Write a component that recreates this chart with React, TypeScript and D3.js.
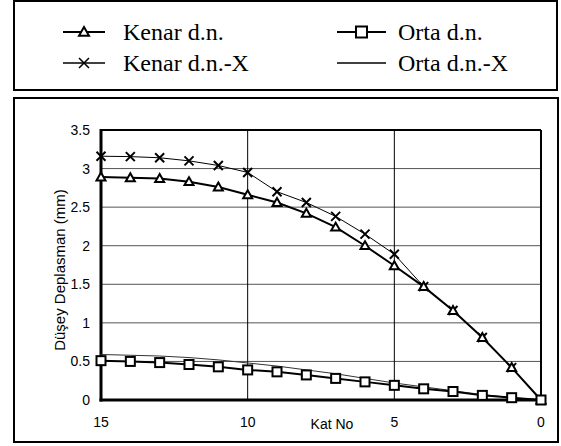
import React from "react";
import * as d3 from "d3";

const katNo = [15, 14, 13, 12, 11, 10, 9, 8, 7, 6, 5, 4, 3, 2, 1, 0];
const kenar = [2.89, 2.88, 2.87, 2.83, 2.76, 2.66, 2.56, 2.42, 2.24, 2.0, 1.74, 1.47, 1.16, 0.81, 0.42, 0];
const kenarX = [3.16, 3.155, 3.14, 3.1, 3.04, 2.95, 2.7, 2.56, 2.38, 2.15, 1.89, 1.47, 1.16, 0.81, 0.42, 0];
const orta = [0.51, 0.5, 0.485, 0.46, 0.43, 0.39, 0.365, 0.325, 0.28, 0.235, 0.19, 0.145, 0.11, 0.06, 0.03, 0];
const ortaX = [0.59, 0.58, 0.57, 0.55, 0.52, 0.48, 0.44, 0.39, 0.34, 0.28, 0.22, 0.17, 0.12, 0.07, 0.03, 0];
const yTicks = [0, 0.5, 1, 1.5, 2, 2.5, 3, 3.5];
const xTicks = [15, 10, 5, 0];
const xGrid = [10, 5];

const left = 101, right = 541, top = 130, bottom = 400;

export default function App() {
  const x = d3.scaleLinear().domain([15, 0]).range([left, right]);
  const y = d3.scaleLinear().domain([0, 3.5]).range([bottom, top]);
  const line = (vals: number[]) =>
    d3.line<number>().x((_, i) => x(katNo[i])).y((v) => y(v))(vals) || "";

  const tri = (cx: number, cy: number, s = 5) =>
    `M${cx},${cy - s} L${cx + s},${cy + s * 0.75} L${cx - s},${cy + s * 0.75} Z`;
  const cross = (cx: number, cy: number, s = 5) =>
    `M${cx - s},${cy - s} L${cx + s},${cy + s} M${cx - s},${cy + s} L${cx + s},${cy - s}`;

  const sans = "Liberation Sans, Arial, sans-serif";
  const serif = "Liberation Serif, Times New Roman, serif";

  return (
    <svg width={561} height={446} style={{ position: "absolute", left: 0, top: 0 }}>
      <rect x={0} y={0} width={561} height={446} fill="#fff" />
      {/* legend box */}
      <rect x={14} y={1} width={543} height={89} fill="none" stroke="#000" strokeWidth={2} />
      <g fontFamily={serif} fontSize={24} fill="#000">
        <line x1={63} x2={105} y1={32} y2={32} stroke="#000" strokeWidth={2} />
        <path d={tri(84, 32, 5)} fill="#fff" stroke="#000" strokeWidth={2} />
        <text x={123} y={40}>Kenar d.n.</text>
        <line x1={63} x2={105} y1={63} y2={63} stroke="#000" strokeWidth={1.5} />
        <path d={cross(84, 63, 5)} stroke="#000" strokeWidth={1.5} />
        <text x={123} y={71}>Kenar d.n.-X</text>
        <line x1={337} x2={386} y1={32} y2={32} stroke="#000" strokeWidth={2} />
        <rect x={356} y={26.5} width={11} height={11} fill="#fff" stroke="#000" strokeWidth={2} />
        <text x={398} y={40}>Orta d.n.</text>
        <line x1={337} x2={386} y1={63} y2={63} stroke="#000" strokeWidth={1.5} />
        <text x={398} y={71}>Orta d.n.-X</text>
      </g>
      {/* chart box */}
      <rect x={14} y={98} width={544} height={344} fill="none" stroke="#000" strokeWidth={2} />
      {/* grid */}
      {yTicks.map((t) => (
        <line key={"gy" + t} x1={left} x2={right} y1={y(t)} y2={y(t)} stroke="#555" strokeWidth={1} />
      ))}
      {xGrid.map((t) => (
        <line key={"gx" + t} x1={x(t)} x2={x(t)} y1={top} y2={bottom} stroke="#000" strokeWidth={1} />
      ))}
      {/* frame */}
      <line x1={left} x2={right} y1={top} y2={top} stroke="#000" strokeWidth={2} />
      <line x1={right} x2={right} y1={top} y2={bottom} stroke="#000" strokeWidth={2} />
      <line x1={left} x2={left} y1={top - 1} y2={bottom + 1.5} stroke="#000" strokeWidth={3} />
      <line x1={left - 1.5} x2={right + 1} y1={bottom} y2={bottom} stroke="#000" strokeWidth={3} />
      {/* tick labels */}
      <g fontFamily={sans} fontSize={14} fill="#000">
        {yTicks.map((t) => (
          <text key={"ty" + t} x={90} y={y(t) + 5} textAnchor="end">
            {d3.format("")(t)}
          </text>
        ))}
        {xTicks.map((t) => (
          <text key={"tx" + t} x={x(t)} y={427} textAnchor="middle">
            {t}
          </text>
        ))}
        <text x={332} y={429} textAnchor="middle">Kat No</text>
        <text fontSize={15} transform={`translate(65,270) rotate(-90)`} textAnchor="middle">
          Düşey Deplasman (mm)
        </text>
      </g>
      {/* series */}
      <path d={line(ortaX)} fill="none" stroke="#333" strokeWidth={1} />
      <path d={line(orta)} fill="none" stroke="#000" strokeWidth={2} />
      <path d={line(kenarX)} fill="none" stroke="#000" strokeWidth={1} />
      <path d={line(kenar)} fill="none" stroke="#000" strokeWidth={2} />
      {kenarX.map((v, i) => (
        <path key={"kx" + i} d={cross(x(katNo[i]), y(v), 4.5)} stroke="#000" strokeWidth={2} />
      ))}
      {kenar.map((v, i) => (
        <path key={"k" + i} d={tri(x(katNo[i]), y(v), 4.5)} fill="#fff" stroke="#000" strokeWidth={2} />
      ))}
      {orta.map((v, i) => (
        <rect key={"o" + i} x={x(katNo[i]) - 4.5} y={y(v) - 4.5} width={9} height={9} fill="#fff" stroke="#000" strokeWidth={2} />
      ))}
    </svg>
  );
}
